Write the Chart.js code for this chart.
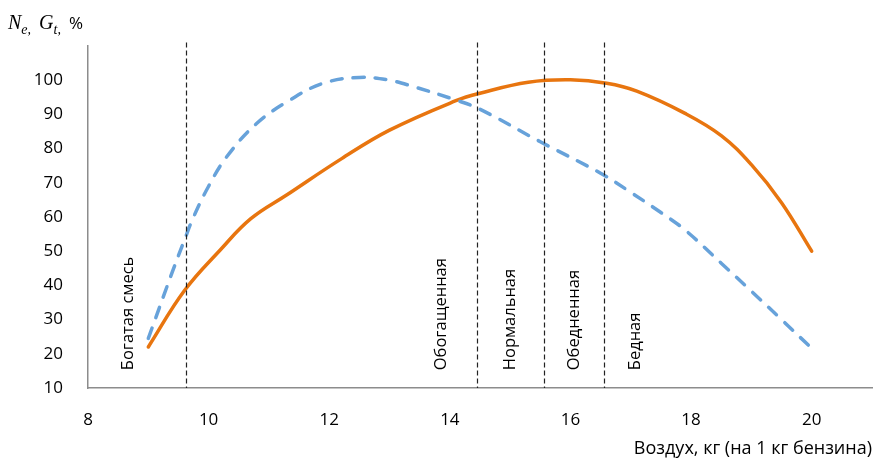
<!DOCTYPE html>
<html>
<head>
<meta charset="utf-8">
<script src="https://cdn.jsdelivr.net/npm/chart.js@4.4.1/dist/chart.umd.min.js"></script>
<style>
  html, body { margin: 0; padding: 0; background: #fff; }
  #wrap { width: 875px; height: 460px; position: relative; }
</style>
</head>
<body>
<div id="wrap"><canvas id="myChart"></canvas></div>
<script>
// power curve (solid orange)
var neX = [9, 9.6, 10.2, 10.7, 11.3, 12.2, 13, 14.1, 14.5, 15.3, 16.0, 16.6, 17.1, 17.9, 18.5, 19, 19.5, 20];
var neY = [22, 38.5, 50.5, 59.5, 66.5, 77, 85.4, 94, 96.2, 99.4, 100.1, 99.1, 96.8, 90.3, 83.8, 75.3, 64.2, 50];

// fuel curve (dashed blue)
var gtX = [9, 9.4, 9.6, 9.75, 10, 10.3, 10.8, 11.35, 11.9, 12.5, 13, 13.4, 14.1, 14.5, 15.5, 16.5, 17, 17.5, 17.9, 18.5, 19, 19.5, 20];
var gtY = [24.5, 44, 53.3, 60, 69, 77.6, 87.4, 94.2, 99.1, 100.8, 100, 98.1, 94.2, 91.5, 82, 72.8, 67.2, 61.3, 56.2, 46.5, 38.3, 30, 21.6];

// mixture borders and zone names
var borderX = [9.62, 14.45, 15.56, 16.55];
var zoneNames = ['Богатая смесь', 'Обогащенная', 'Нормальная', 'Обедненная', 'Бедная'];
var zoneX = [8.66, 13.86, 15.0, 16.07, 17.08];

var xTitle = 'Воздух, кг (на 1 кг бензина)';

function toPoints(xs, ys) {
    return xs.map(function(x, i) { return {x: x, y: ys[i]}; });
}

var fontFam = "'Open Sans', 'Liberation Sans', Arial, sans-serif";
var tickFont = { family: fontFam, size: 17 };

var overlay = {
    id: 'overlay',
    afterDatasetsDraw: function(chart) {
        var ctx = chart.ctx;
        var xs = chart.scales.x, ys = chart.scales.y;
        var top = ys.getPixelForValue(111);
        var bottom = ys.getPixelForValue(10);
        ctx.save();
        ctx.strokeStyle = '#222';
        ctx.lineWidth = 1.2;
        ctx.setLineDash([5, 3]);
        borderX.forEach(function(v) {
            var px = Math.round(xs.getPixelForValue(v)) + 0.5;
            ctx.beginPath();
            ctx.moveTo(px, top);
            ctx.lineTo(px, bottom);
            ctx.stroke();
        });
        ctx.setLineDash([]);

        ctx.fillStyle = '#000';
        ctx.font = "16.5px " + fontFam;
        ctx.textAlign = 'left';
        ctx.textBaseline = 'middle';
        zoneNames.forEach(function(name, i) {
            ctx.save();
            ctx.translate(xs.getPixelForValue(zoneX[i]), ys.getPixelForValue(15.2));
            ctx.rotate(-Math.PI / 2);
            ctx.fillText(name, 0, 0);
            ctx.restore();
        });

        // y axis label N_e, G_t, %
        ctx.textBaseline = 'alphabetic';
        var x = 8, base = 29;
        var serif = "'Liberation Serif', 'Times New Roman', serif";
        ctx.font = "italic 20px " + serif;
        ctx.fillText('N', x, base); x += ctx.measureText('N').width;
        ctx.font = "italic 14px " + serif;
        ctx.fillText('e,', x, base + 5); x += ctx.measureText('e,').width + 8;
        ctx.font = "italic 20px " + serif;
        ctx.fillText('G', x, base); x += ctx.measureText('G').width;
        ctx.font = "italic 14px " + serif;
        ctx.fillText('t,', x, base + 5); x += ctx.measureText('t,').width + 8;
        ctx.font = "17px " + fontFam;
        ctx.fillText('%', x, base);
        ctx.restore();
    }
};

var ctx = document.getElementById('myChart');
var config = {
    type: 'line',
    data: {
        datasets: [{
            label: 'Gt',
            data: toPoints(gtX, gtY),
            borderColor: '#67A2DA',
            borderWidth: 3.5,
            borderDash: [11, 11],
            borderCapStyle: 'round',
            pointRadius: 0,
            tension: 0.4,
            fill: false
        }, {
            label: 'Ne',
            data: toPoints(neX, neY),
            borderColor: '#E8750F',
            borderWidth: 3.5,
            borderCapStyle: 'round',
            pointRadius: 0,
            tension: 0.4,
            fill: false
        }]
    },
    options: {
        responsive: true,
        maintainAspectRatio: false,
        animation: false,
        layout: { padding: { left: 0, right: 3, top: 46, bottom: 0 } },
        plugins: {
            legend: { display: false },
            tooltip: { enabled: false }
        },
        scales: {
            x: {
                type: 'linear',
                min: 8,
                max: 21,
                grid: { display: false, drawTicks: false },
                border: { display: true, color: '#8c8c8c', width: 1.5 },
                ticks: {
                    stepSize: 2,
                    includeBounds: false,
                    maxRotation: 0,
                    padding: 22,
                    color: '#000',
                    font: tickFont
                },
                title: {
                    display: true,
                    text: xTitle,
                    align: 'end',
                    color: '#000',
                    font: { family: fontFam, size: 18 },
                    padding: { top: 0, bottom: 0 }
                },
                afterFit: function(scale) { scale.height = 72; }
            },
            y: {
                min: 10,
                max: 110,
                grid: { display: false, drawTicks: false },
                border: { display: true, color: '#8c8c8c', width: 1.5 },
                ticks: {
                    stepSize: 10,
                    padding: 25,
                    color: '#000',
                    font: tickFont,
                    callback: function(v) { return v > 100 ? '' : v; }
                },
                afterFit: function(scale) { scale.width = 88; }
            }
        }
    },
    plugins: [overlay]
};
var myChart = new Chart(ctx, config);
</script>
</body>
</html>
